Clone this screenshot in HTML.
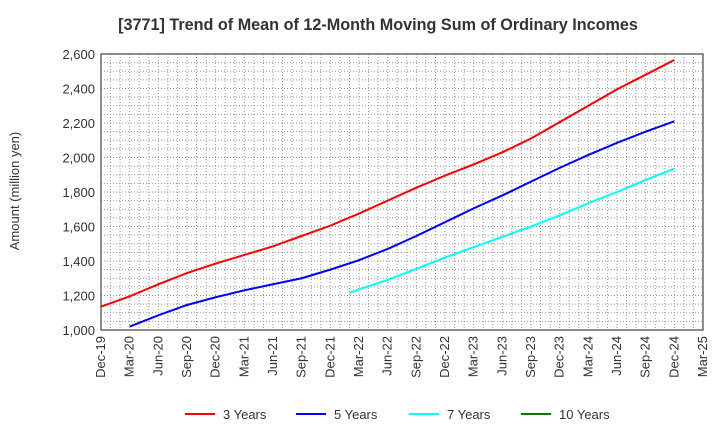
<!DOCTYPE html>
<html><head><meta charset="utf-8"><style>
body{margin:0;background:#fff;font-family:"Liberation Sans",sans-serif}
</style></head><body>
<svg id="c" width="720" height="440" xmlns="http://www.w3.org/2000/svg">
<text x="378" y="30" text-anchor="middle" font-size="16.2" font-weight="bold" fill="#333">[3771]  Trend of Mean of 12-Month Moving Sum of Ordinary Incomes</text>
<text transform="translate(19,191) rotate(-90)" text-anchor="middle" font-size="13" fill="#333">Amount (million yen)</text>
<g id="grid"></g><g id="axes"></g><g id="series"></g><g id="legend"></g>
</svg>
<script>
const xTickLabels=["Dec-19","Mar-20","Jun-20","Sep-20","Dec-20","Mar-21","Jun-21","Sep-21","Dec-21","Mar-22","Jun-22","Sep-22","Dec-22","Mar-23","Jun-23","Sep-23","Dec-23","Mar-24","Jun-24","Sep-24","Dec-24","Mar-25"];
const yTicks=[1000,1200,1400,1600,1800,2000,2200,2400,2600];
const seriesNames=["3 Years","5 Years","7 Years","10 Years"];
const seriesColors=["#ff0000","#0000ff","#00ffff","#008000"];
const months3=[0,3,6,9,12,15,18,21,24,27,30,33,36,39,42,45,48,51,54,57,60];
const values3=[1135,1195,1265,1330,1385,1435,1485,1545,1605,1675,1750,1825,1895,1960,2030,2110,2205,2300,2395,2480,2565];
const months5=[3,6,9,12,15,18,21,24,27,30,33,36,39,42,45,48,51,54,57,60];
const values5=[1020,1085,1145,1190,1230,1265,1300,1350,1405,1470,1545,1625,1705,1780,1860,1940,2015,2085,2150,2210];
const months7=[26,27,30,33,36,39,42,45,48,51,54,57,60];
const values7=[1215,1235,1290,1355,1420,1480,1540,1600,1665,1735,1800,1870,1935];
const months10=[];
const values10=[];
const L=101,R=703,T=54,B=330,NM=63,YMIN=1000,YMAX=2600;
const xs=m=>L+(R-L)*m/NM, ys=v=>B-(B-T)*(v-YMIN)/(YMAX-YMIN);
const NS="http://www.w3.org/2000/svg";
function mk(t,a,p){const e=document.createElementNS(NS,t);for(const k in a)e.setAttribute(k,a[k]);p.appendChild(e);return e;}
const grid=document.getElementById('grid'),axes=document.getElementById('axes'),ser=document.getElementById('series'),leg=document.getElementById('legend');
for(let m=1;m<NM;m++){const l=mk('line',{x1:xs(m),x2:xs(m),y1:T,y2:B,stroke:'#999','stroke-dasharray':'1,2','stroke-width':1},grid);

}
for(let v=YMIN+50;v<YMAX;v+=50){const l=mk('line',{x1:L,x2:R,y1:ys(v),y2:ys(v),stroke:'#999','stroke-dasharray':'1,2','stroke-width':1},grid);

}
const fr=mk('rect',{x:L,y:T,width:R-L,height:B-T,fill:'none',stroke:'#444','stroke-width':1.2},axes);


yTicks.forEach(v=>{const t=mk('text',{x:L-6,y:ys(v)+5,'text-anchor':'end','font-size':13,fill:'#333'},axes);t.textContent=v.toLocaleString('en-US');

});
xTickLabels.forEach((s,i)=>{const x=xs(i*3);const t=mk('text',{transform:`translate(${x+4},${B+6}) rotate(-90)`,'text-anchor':'end','font-size':13,fill:'#333'},axes);t.textContent=s;

});
[[months3,values3],[months5,values5],[months7,values7],[months10,values10]].forEach(([ms,vs],i)=>{
if(!ms.length)return;
const p=mk('polyline',{points:ms.map((m,j)=>xs(m)+','+ys(vs[j])).join(' '),fill:'none',stroke:seriesColors[i],'stroke-width':2,'stroke-linejoin':'round'},ser);

});
const lx=[185,296,409,521];
seriesNames.forEach((n,i)=>{const g=mk('g',{},leg);


mk('line',{x1:lx[i],x2:lx[i]+30,y1:414,y2:414,stroke:seriesColors[i],'stroke-width':2},g);
const t=mk('text',{x:lx[i]+38,y:419,'font-size':13,fill:'#333'},g);t.textContent=n;});
</script>
</body></html>
